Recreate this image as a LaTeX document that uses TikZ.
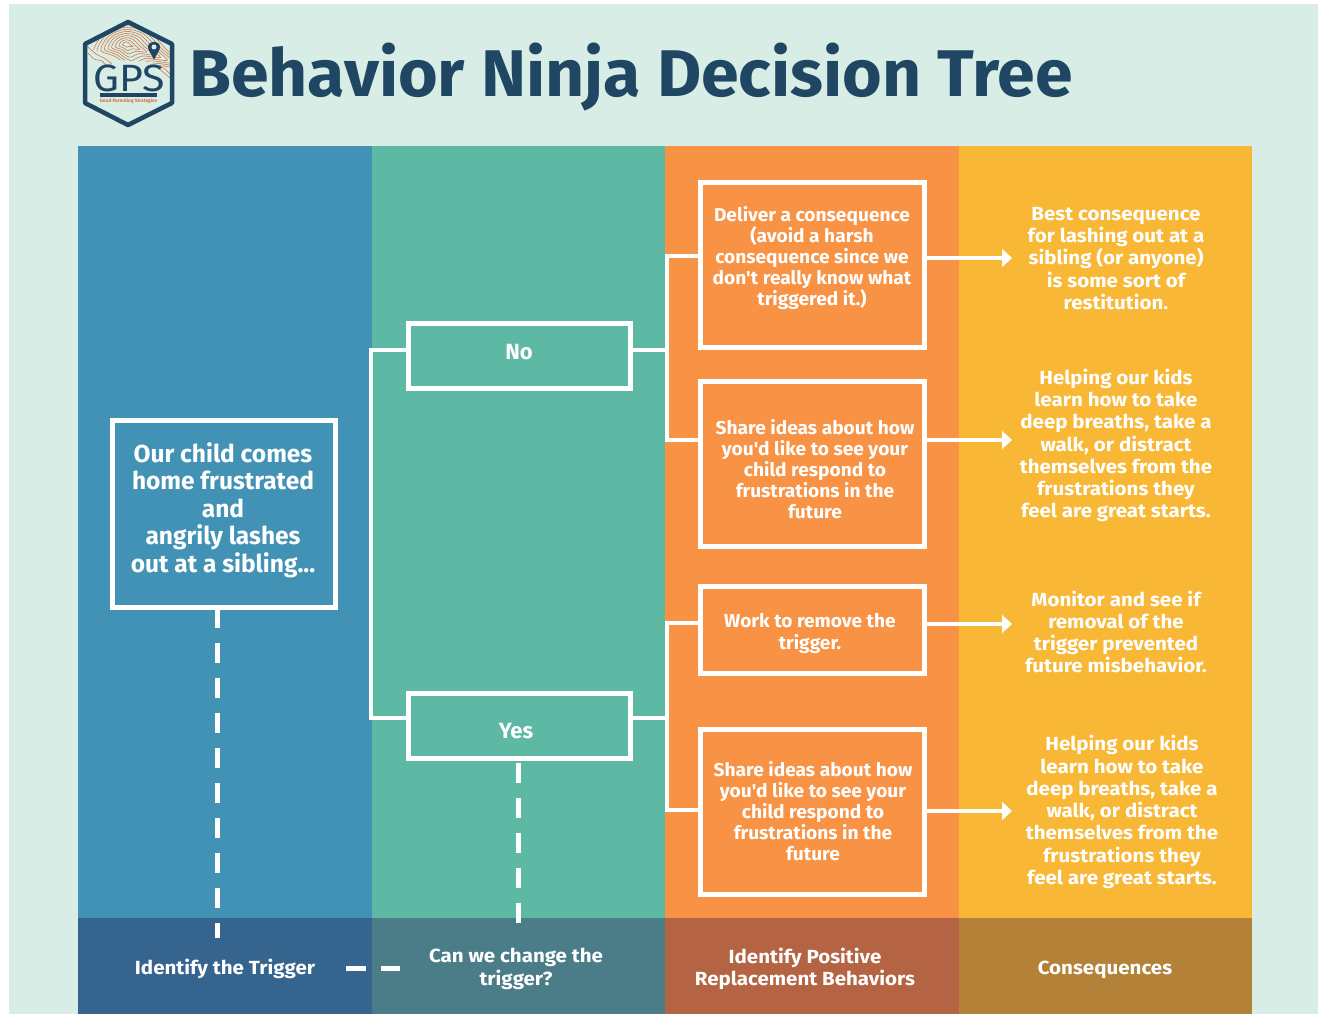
\documentclass[tikz,border=0pt]{standalone}
\usepackage{fontspec}
\newfontfamily\rub{Fira Sans}[BoldFont=* Bold]
\newfontfamily\rubm{Fira Sans}[BoldFont=* Bold,FakeStretch=1.03]
\newfontfamily\rubw{Fira Sans}[BoldFont=* Bold,FakeStretch=1.08]
\definecolor{pagebg}{HTML}{D7EDE6}
\definecolor{cblue}{HTML}{4292B5}
\definecolor{cgreen}{HTML}{5DB9A3}
\definecolor{corange}{HTML}{F89245}
\definecolor{cyellow}{HTML}{F8B735}
\definecolor{fblue}{HTML}{35648F}
\definecolor{fgreen}{HTML}{4A7D87}
\definecolor{forange}{HTML}{B46442}
\definecolor{fyellow}{HTML}{B38138}
\definecolor{navy}{HTML}{1F4662}
\definecolor{topo}{HTML}{D9703A}
\usetikzlibrary{arrows.meta,calc}
\tikzset{
  boxnode/.style={draw=white,line width=5pt,inner sep=0pt,outer sep=0pt,anchor=north west},
  txt/.style={text=white,align=center,inner sep=0pt},
  big/.style={txt,font=\rub\bfseries\fontsize{24.5}{27.4}\selectfont},
  mid/.style={txt,font=\rubm\bfseries\fontsize{18.6}{21}\selectfont},
  cons/.style={txt,font=\rubw\bfseries\fontsize{19}{22.3}\selectfont},
  foot/.style={txt,font=\rubw\bfseries\fontsize{19}{22.5}\selectfont},
  link/.style={draw=white,line width=4pt},
  dashlink/.style={draw=white,line width=5pt,dash pattern=on 20pt off 15pt},
  arrowlink/.style={draw=white,line width=4pt,-{Triangle[length=10pt,width=18pt]}},
  contour/.style={draw=topo,line width=0.55pt}
}
\begin{document}
\begin{tikzpicture}[x=1pt,y=-1pt]
\useasboundingbox (0,0) rectangle (1318,1014);
\fill[white] (0,0) rectangle (1318,1014);
\fill[pagebg] (9,4) rectangle (1318,1014);
% columns
\fill[cblue] (78,146) rectangle (372,918);
\fill[cgreen] (372,146) rectangle (665,918);
\fill[corange] (665,146) rectangle (959,918);
\fill[cyellow] (959,146) rectangle (1252,918);
\fill[fblue] (78,918) rectangle (372,1014);
\fill[fgreen] (372,918) rectangle (665,1014);
\fill[forange] (665,918) rectangle (959,1014);
\fill[fyellow] (959,918) rectangle (1252,1014);
% logo
\begin{scope}
\clip (128,21) -- (173,43) -- (173,72) -- (150,62) -- (120,60) -- (84,46) -- (84,43) -- cycle;
\foreach \s in {0.15,0.3,...,1.5}{
  \draw[contour,shift={(126,44)},scale=\s]
    plot[smooth cycle] coordinates {(-16,-8) (0,-14) (16,-10) (30,4) (46,18) (22,16) (6,22) (-10,12) (-24,6)};
}
\end{scope}
\draw[contour] plot[smooth] coordinates {(87,46) (96,54) (104,58) (112,64)};
\draw[contour] plot[smooth] coordinates {(88,53) (94,59) (102,61) (106,66)};
\draw[contour] plot[smooth] coordinates {(160,66) (166,70) (171,75)};
\draw[contour] plot[smooth] coordinates {(158,68) (163,72) (170,78)};
\node[inner sep=0pt,minimum size=0pt] (hex) at (128.5,73) {};
\draw[navy,line width=4.5pt,line join=round] (128,22) -- (172,44) -- (172,103) -- (128,125) -- (85,103) -- (85,44) -- cycle;
\fill[navy] (154,60) .. controls (151,53) and (148,51) .. (148,47) .. controls (148,40) and (160,40) .. (160,47) .. controls (160,51) and (157,53) .. (154,60) -- cycle;
\fill[pagebg] (154,47) circle (2.5pt);
\node[inner sep=0pt,text=navy,font=\rubw\fontsize{38}{38}\selectfont] (gps) at (129,78) {GPS};
\fill[navy] (100,93.5) rectangle (157,97.5);
\node[inner sep=0pt,text=topo,font=\rub\bfseries\fontsize{4.8}{5}\selectfont] (gpstag) at (128.5,101) {Good Parenting Strategies};
% title
\node[inner sep=0pt,anchor=west,text=navy,font=\rubm\bfseries\fontsize{66}{66}\selectfont] (title) at (189,77) {Behavior Ninja Decision Tree};
% boxes
\node[boxnode,minimum width=223.5pt,minimum height=187pt] (main) at (112,420.5) {};
\node[boxnode,minimum width=222pt,minimum height=65pt] (no) at (408,323.5) {};
\node[boxnode,minimum width=222pt,minimum height=65pt] (yes) at (408,693) {};
\node[boxnode,minimum width=224pt,minimum height=165pt] (deliver) at (700.5,182.5) {};
\node[boxnode,minimum width=224pt,minimum height=165pt] (share1) at (700.5,381.5) {};
\node[boxnode,minimum width=224pt,minimum height=87pt] (work) at (700.5,586.5) {};
\node[boxnode,minimum width=224pt,minimum height=165pt] (share2) at (700.5,729.5) {};
% free ends
\coordinate (trunkL) at (371,350);
\coordinate (trunkLb) at (371,718);
\coordinate (trunkR) at (667,256);
\coordinate (trunkRb) at (667,440);
\coordinate (trunkS) at (667,623);
\coordinate (trunkSb) at (667,810);
\coordinate (c1) at (1012,258);
\coordinate (c2) at (1012,440);
\coordinate (c3) at (1012,624);
\coordinate (c4) at (1012,811);
\coordinate (mainEnd) at (217,938);
\coordinate (mainStart) at (217,608);
\coordinate (yesStart) at (518,763);
\coordinate (yesEnd) at (518,923);
\coordinate (h1) at (346,968);
\coordinate (h2) at (400,968);
% connectors
\draw[link,line cap=rect] (no.west |- trunkL) -- (trunkL) -- (trunkLb) -- (yes.west |- trunkLb);
\draw[link] (no.east |- 0,350) -- (667,350);
\draw[link] (yes.east |- 0,718) -- (667,718);
\draw[link,line cap=rect] (deliver.west |- trunkR) -- (trunkR) -- (trunkRb) -- (share1.west |- trunkRb);
\draw[link,line cap=rect] (work.west |- trunkS) -- (trunkS) -- (trunkSb) -- (share2.west |- trunkSb);
\draw[arrowlink] (deliver.east |- c1) -- (c1);
\draw[arrowlink] (share1.east |- c2) -- (c2);
\draw[arrowlink] (work.east |- c3) -- (c3);
\draw[arrowlink] (share2.east |- c4) -- (c4);
\draw[dashlink] (mainStart) -- (mainEnd);
\draw[dashlink] (yesStart) -- (yesEnd);
\draw[dashlink] (h1) -- (h2);
% texts
\node[big] (tmain) at (223,510) {Our child comes\\home frustrated\\and\\angrily lashes\\out at a sibling...};
\node[txt,font=\rub\bfseries\fontsize{22}{24}\selectfont] (tno) at (519,352) {No};
\node[txt,font=\rub\bfseries\fontsize{22}{24}\selectfont] (tyes) at (516,731) {Yes};
\node[mid] (tdeliver) at (812,258) {Deliver a consequence\\(avoid a harsh\\consequence since we\\don't really know what\\triggered it.)};
\node[mid] (tshare1) at (815,469) {Share ideas about how\\you'd like to see your\\child respond to\\frustrations in the\\future};
\node[mid,font=\rubm\bfseries\fontsize{18.6}{22}\selectfont] (twork) at (810,634) {Work to remove the\\trigger.};
\node[mid] (tshare2) at (813,811) {Share ideas about how\\you'd like to see your\\child respond to\\frustrations in the\\future};
\node[cons] (tbest) at (1116,258.5) {Best consequence\\for lashing out at a\\sibling (or anyone)\\is some sort of\\restitution.};
\node[cons] (thelp1) at (1116,445.5) {Helping our kids\\learn how to take\\deep breaths, take a\\walk, or distract\\themselves from the\\frustrations they\\feel are great starts.};
\node[cons] (tmon) at (1116,632) {Monitor and see if\\removal of the\\trigger prevented\\future misbehavior.};
\node[cons] (thelp2) at (1122,812) {Helping our kids\\learn how to take\\deep breaths, take a\\walk, or distract\\themselves from the\\frustrations they\\feel are great starts.};
\node[foot] (f1) at (225,969) {Identify the Trigger};
\node[foot] (f2) at (516,969) {Can we change the\\trigger?};
\node[foot] (f3) at (805,969) {Identify Positive\\Replacement Behaviors};
\node[foot] (f4) at (1105,969.5) {Consequences};
\end{tikzpicture}
\end{document}
